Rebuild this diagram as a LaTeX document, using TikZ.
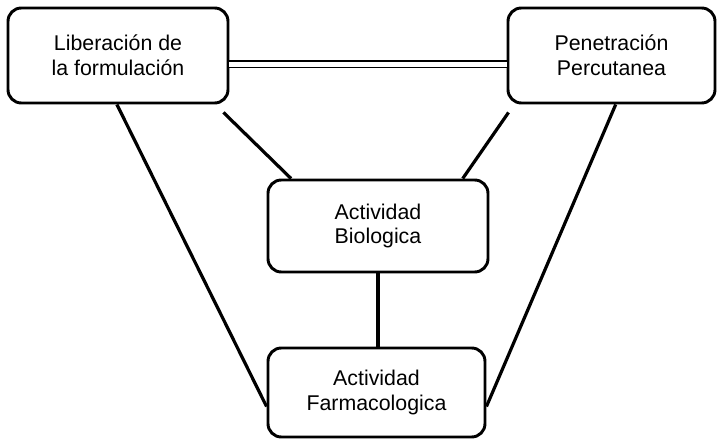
\documentclass[tikz,border=0pt]{standalone}
\usepackage{fontspec}
\setmainfont{Liberation Sans}
\usetikzlibrary{calc}
\begin{document}
\begin{tikzpicture}[x=0.75pt,y=-0.75pt,
  box/.style={draw,line width=2.2pt,rounded corners=10pt,align=center,
    font=\fontsize{16pt}{18.5pt}\selectfont,inner sep=0pt},
  link/.style={line width=2.4pt}]
\useasboundingbox (0,0) rectangle (717,441);
\node[box,minimum width=220*0.75pt,minimum height=95*0.75pt] (A) at (118,55.5) {Liberación de\\la formulación};
\node[box,minimum width=207*0.75pt,minimum height=95*0.75pt] (B) at (611.5,55.5) {Penetración\\Percutanea};
\node[box,minimum width=220*0.75pt,minimum height=92*0.75pt] (C) at (378,226) {Actividad\\Biologica};
\node[box,minimum width=217*0.75pt,minimum height=89*0.75pt] (D) at (376.5,392.5) {Actividad\\Farmacologica};
\draw[line width=1pt,double,double distance=4pt] (A.east) ++(0,9) coordinate (a1) -- (a1 -| B.west);
\draw[link] ($(A.south west)!0.495!(A.south east)$) -- ($(D.west)+(0,14)$);
\draw[link] ($(A.south east)+(-6,8)$) -- ($(C.north west)!0.11!(C.north east)$);
\draw[link] ($(B.south west)+(2,8)$) -- ($(C.north west)!0.88!(C.north east)$);
\draw[link] ($(B.south west)!0.52!(B.south east)$) -- ($(D.east)+(0,14)$);
\draw[link] (C.south) -- (C.south |- D.north);
\end{tikzpicture}
\end{document}
